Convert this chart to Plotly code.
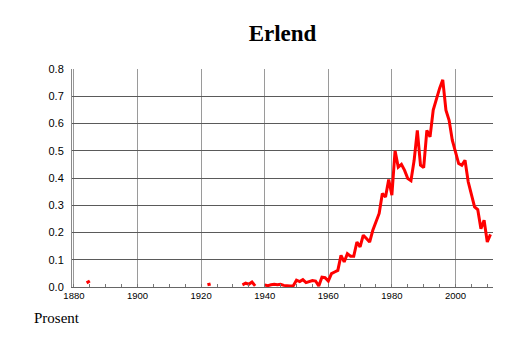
import plotly.graph_objects as go

# ---- data (share of newborns named Erlend, percent) ----
seg_start_years = [1884, 1922, 1933, 1940]
seg_1884 = [0.015, 0.022]
seg_1922 = [0.008, 0.011]
seg_1933 = [0.008, 0.014, 0.010, 0.018, 0.004]
seg_1940 = [
    0.007, 0.005, 0.008, 0.010, 0.008, 0.010, 0.006, 0.004, 0.004, 0.005,   # 1940-1949
    0.025, 0.020, 0.027, 0.016, 0.020, 0.024, 0.022, 0.004, 0.036, 0.034,   # 1950-1959
    0.022, 0.049, 0.055, 0.061, 0.116, 0.092, 0.122, 0.113, 0.113, 0.165,   # 1960-1969
    0.147, 0.190, 0.178, 0.165, 0.208, 0.239, 0.270, 0.343, 0.330, 0.394,   # 1970-1979
    0.337, 0.500, 0.440, 0.450, 0.428, 0.398, 0.390, 0.465, 0.575, 0.447,   # 1980-1989
    0.438, 0.575, 0.551, 0.649, 0.692, 0.729, 0.760, 0.649, 0.612, 0.539,   # 1990-1999
    0.496, 0.453, 0.447, 0.465, 0.386, 0.343, 0.294, 0.284, 0.214, 0.245,   # 2000-2009
    0.165, 0.193,                                                           # 2010-2011
]
segments = [seg_1884, seg_1922, seg_1933, seg_1940]

x_ticks = [1880, 1900, 1920, 1940, 1960, 1980, 2000]
y_ticks = [0.0, 0.1, 0.2, 0.3, 0.4, 0.5, 0.6, 0.7, 0.8]
title_text = "Erlend"
y_label = "Prosent"

# build one trace with gaps between segments
xs, ys = [], []
for start, seg in zip(seg_start_years, segments):
    if xs:
        xs.append(None)
        ys.append(None)
    xs.extend(range(start, start + len(seg)))
    ys.extend(seg)

fig = go.Figure()
fig.add_trace(go.Scatter(
    x=xs, y=ys, mode="lines", connectgaps=False,
    line=dict(color="#ff0000", width=3),
    hoverinfo="skip", showlegend=False,
))

fig.update_layout(
    width=514, height=343,
    margin=dict(l=72, r=21, t=69, b=56),
    paper_bgcolor="white", plot_bgcolor="white",
    title=dict(
        text="<b>" + title_text + "</b>",
        font=dict(family="Liberation Serif", size=23, color="black"),
        x=0.5, xanchor="center", xref="paper",
        y=1 - 33 / 343, yanchor="middle", yref="container",
    ),
    annotations=[dict(
        text=y_label, xref="paper", yref="paper",
        x=(32 - 72) / 421, xanchor="left",
        y=(287 - 318) / 218, yanchor="middle",
        showarrow=False,
        font=dict(family="Liberation Serif", size=15, color="black"),
    )],
)

fig.update_xaxes(
    range=[1879.4, 2011.8],
    tickmode="array", tickvals=x_ticks, ticktext=[str(v) for v in x_ticks],
    tickfont=dict(family="Liberation Sans", size=9.5, color="black"),
    showgrid=True, gridcolor="#9a9a9a", gridwidth=1,
    showline=True, linecolor="#666666", linewidth=1,
    zeroline=False, ticks="",
    minor=dict(ticks="inside", ticklen=3, tickcolor="#777777", dtick=5, tick0=1880,
               showgrid=False),
    fixedrange=True,
)
fig.update_yaxes(
    range=[0, 0.8],
    tickmode="array", tickvals=y_ticks, ticktext=[f"{v:.1f}" for v in y_ticks],
    tickfont=dict(family="Liberation Sans", size=11, color="black"),
    showgrid=True, gridcolor="#5a5a5a", gridwidth=1,
    showline=True, linecolor="#8a8a8a", linewidth=1,
    zeroline=False, ticks="", ticklabelstandoff=5,
    fixedrange=True,
)

fig.write_html("out.html")
